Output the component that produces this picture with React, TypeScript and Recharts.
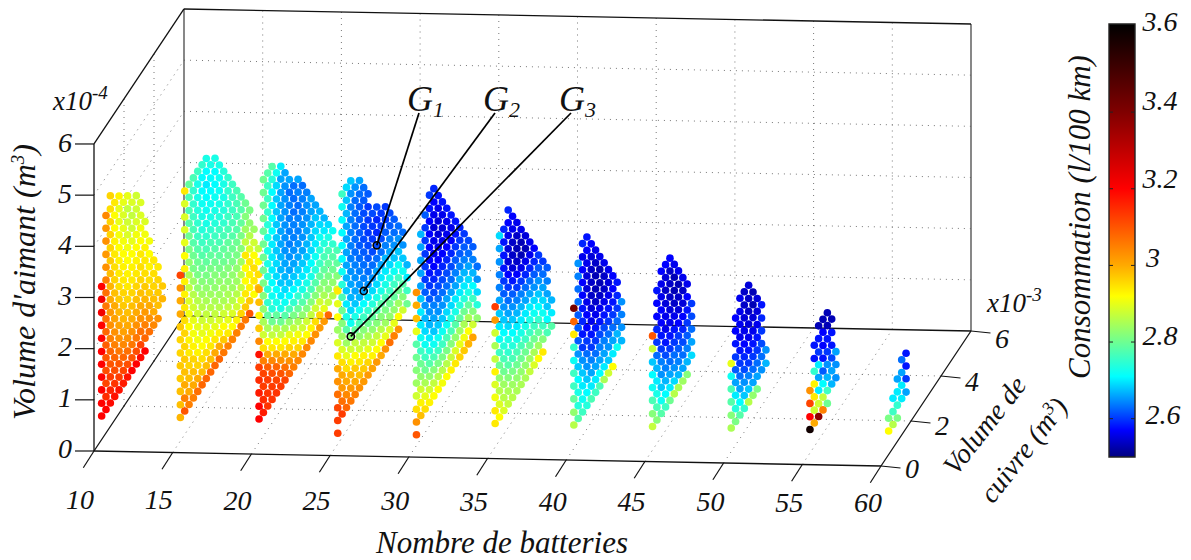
import React from 'react';
import { ScatterChart, Scatter, XAxis, YAxis, ReferenceLine, ReferenceArea, ReferenceDot } from 'recharts';

// Grid of the optimisation: copper volume (x10^-3 m3) and magnet volume (x10^-4 m3)
const copperGrid = [0.51, 0.8, 1.09, 1.38, 1.67, 1.96, 2.24, 2.53, 2.82, 3.11, 3.4, 3.69, 3.98, 4.27, 4.56, 4.85, 5.13, 5.42, 5.71];
const magnetGrid = [0.21, 0.46, 0.71, 0.97, 1.22, 1.47, 1.72, 1.98, 2.23, 2.48, 2.74, 2.99, 3.24, 3.49, 3.75, 4.0, 4.25, 4.51, 4.76, 5.01];

// One entry per copper step: [index of first magnet step, consumption going up]
type Column = [number, number[]];

const batt10: Column[] = [
  [1, [3.2, 3.2, 3.2, 3.2, 3.2, 3.2, 3.2, 3.2, 3.22, 3.22, 3.2]],
  [1, [3.2, 3.15, 3.12, 3.11, 3.1, 3.09, 3.08, 3.07, 3.06, 3.07, 3.05, 3.03, 3.02, 3.03, 3.02, 3.04]],
  [1, [3.19, 3.16, 3.13, 3.1, 3.08, 3.05, 3.03, 3.02, 3.0, 2.99, 2.98, 2.97, 2.96, 2.96, 2.96, 2.95, 2.96]],
  [1, [3.18, 3.14, 3.11, 3.08, 3.05, 3.03, 3.01, 3.0, 2.98, 2.96, 2.95, 2.94, 2.93, 2.92, 2.92, 2.94]],
  [1, [3.18, 3.13, 3.1, 3.06, 3.03, 3.01, 2.99, 2.97, 2.95, 2.94, 2.93, 2.92, 2.91, 2.9, 2.9, 2.93]],
  [1, [3.17, 3.12, 3.08, 3.04, 3.01, 2.99, 2.97, 2.96, 2.94, 2.93, 2.92, 2.91, 2.9, 2.89, 2.9]],
  [1, [3.18, 3.11, 3.07, 3.03, 3.0, 2.98, 2.96, 2.94, 2.93, 2.92, 2.91, 2.89, 2.88, 2.87, 2.9]],
  [1, [3.2, 3.1, 3.06, 3.03, 3.0, 2.98, 2.96, 2.94, 2.93, 2.92, 2.9, 2.88, 2.87, 2.89]],
  [1, [3.2, 3.11, 3.06, 3.03, 3.0, 2.98, 2.96, 2.94, 2.93, 2.92, 2.91, 2.89, 2.88, 2.88]],
  [1, [3.19, 3.12, 3.07, 3.03, 3.0, 2.98, 2.96, 2.95, 2.94, 2.92, 2.91, 2.89, 2.89]],
  [1, [3.2, 3.08, 3.05, 3.02, 2.99, 2.97, 2.95, 2.94, 2.93, 2.91, 2.89]],
  [2, [3.07, 3.03, 3.0, 2.97, 2.95, 2.93, 2.92, 2.91]],
  [2, [3.04, 3.0, 2.98, 2.96, 2.95, 2.94]],
  [2, [3.03, 2.98, 2.97, 2.96, 2.94]],
  [3, [2.99, 2.97]],
];

const batt15: Column[] = [
  [1, [2.99, 2.98, 2.98, 2.97, 2.97, 2.96, 2.96, 2.97, 3.0, 3.0, 3.03, 3.12]],
  [1, [3.1, 3.05, 3.0, 2.98, 2.97, 2.96, 2.96, 2.95, 2.94, 2.93, 2.93, 2.93, 2.92, 2.9, 2.89, 2.89, 2.89, 2.94]],
  [1, [3.05, 3.0, 2.98, 2.96, 2.94, 2.93, 2.92, 2.91, 2.89, 2.87, 2.85, 2.83, 2.81, 2.8, 2.78, 2.77, 2.77, 2.79]],
  [1, [3.05, 3.0, 2.98, 2.96, 2.93, 2.91, 2.9, 2.88, 2.86, 2.84, 2.81, 2.8, 2.78, 2.77, 2.76, 2.75, 2.75, 2.77]],
  [1, [3.07, 3.0, 2.96, 2.93, 2.91, 2.9, 2.88, 2.86, 2.83, 2.81, 2.8, 2.78, 2.76, 2.75, 2.74, 2.73, 2.73, 2.76]],
  [1, [3.08, 2.98, 2.95, 2.92, 2.9, 2.88, 2.86, 2.84, 2.82, 2.8, 2.78, 2.76, 2.74, 2.73, 2.72, 2.71, 2.71, 2.75]],
  [1, [3.08, 2.98, 2.95, 2.92, 2.9, 2.87, 2.85, 2.83, 2.81, 2.79, 2.77, 2.75, 2.73, 2.72, 2.71, 2.7, 2.71, 2.73]],
  [1, [3.08, 2.98, 2.94, 2.91, 2.88, 2.86, 2.84, 2.82, 2.81, 2.79, 2.77, 2.75, 2.73, 2.72, 2.71, 2.71, 2.73]],
  [1, [3.08, 3.0, 2.94, 2.9, 2.87, 2.85, 2.83, 2.82, 2.8, 2.78, 2.76, 2.74, 2.73, 2.72, 2.71, 2.71, 2.73]],
  [1, [3.08, 3.0, 2.93, 2.89, 2.86, 2.84, 2.83, 2.81, 2.79, 2.77, 2.76, 2.74, 2.73, 2.72, 2.72, 2.73]],
  [1, [3.06, 2.97, 2.92, 2.88, 2.85, 2.84, 2.82, 2.8, 2.79, 2.77, 2.75, 2.74, 2.73, 2.73, 2.74]],
  [1, [3.05, 2.94, 2.9, 2.87, 2.85, 2.83, 2.82, 2.8, 2.79, 2.77, 2.76, 2.75, 2.75, 2.75]],
  [1, [3.05, 2.92, 2.89, 2.86, 2.84, 2.83, 2.81, 2.8, 2.78, 2.77, 2.76, 2.76, 2.76]],
  [1, [3.05, 2.93, 2.88, 2.86, 2.84, 2.83, 2.81, 2.8, 2.78, 2.77, 2.77, 2.77]],
  [1, [3.06, 2.96, 2.9, 2.87, 2.86, 2.84, 2.82, 2.81, 2.79, 2.78, 2.78]],
  [1, [3.06, 2.97, 2.94, 2.92, 2.92, 2.94, 2.87, 2.84, 2.82, 2.8]],
  [1, [3.1, 2.97, 2.93, 2.93, 2.94, 2.89, 2.86, 2.83, 2.81]],
  [2, [2.92, 2.94, 2.95, 2.92, 2.88, 2.84]],
  [2, [2.98, 2.95, 2.92, 2.87]],
];

const batt20: Column[] = [
  [1, [3.2, 3.2, 3.17, 3.15, 3.13, 3.18, 3.04, 2.97, 2.93, 2.98, 3.0]],
  [1, [3.17, 3.15, 3.13, 3.12, 3.05, 2.95, 2.88, 2.85, 2.83, 2.82, 2.81, 2.8, 2.8, 2.8, 2.79, 2.8, 2.8, 2.8, 2.8]],
  [1, [3.14, 3.14, 3.13, 3.09, 3.0, 2.92, 2.85, 2.79, 2.75, 2.74, 2.74, 2.73, 2.73, 2.73, 2.74, 2.75, 2.76, 2.76, 2.78]],
  [1, [3.14, 3.13, 3.11, 3.04, 2.94, 2.87, 2.8, 2.74, 2.72, 2.71, 2.7, 2.7, 2.7, 2.71, 2.71, 2.71, 2.71, 2.74, 2.78]],
  [1, [3.14, 3.12, 3.08, 3.0, 2.92, 2.86, 2.79, 2.73, 2.71, 2.69, 2.69, 2.68, 2.68, 2.68, 2.68, 2.68, 2.69, 2.72]],
  [1, [3.13, 3.1, 3.03, 2.94, 2.87, 2.8, 2.73, 2.7, 2.68, 2.67, 2.67, 2.66, 2.66, 2.66, 2.66, 2.66, 2.66, 2.7]],
  [1, [3.12, 3.07, 3.0, 2.92, 2.85, 2.78, 2.72, 2.69, 2.67, 2.66, 2.65, 2.65, 2.65, 2.65, 2.65, 2.65, 2.66]],
  [1, [3.08, 3.03, 2.96, 2.9, 2.83, 2.77, 2.71, 2.68, 2.66, 2.65, 2.64, 2.64, 2.64, 2.64, 2.63, 2.66]],
  [1, [3.05, 3.0, 2.93, 2.87, 2.81, 2.75, 2.71, 2.68, 2.66, 2.65, 2.64, 2.64, 2.63, 2.63, 2.63]],
  [1, [3.04, 2.96, 2.91, 2.85, 2.8, 2.75, 2.7, 2.68, 2.66, 2.65, 2.64, 2.64, 2.63, 2.64, 2.66]],
  [1, [3.04, 2.94, 2.88, 2.83, 2.78, 2.73, 2.7, 2.68, 2.66, 2.65, 2.65, 2.64, 2.64, 2.63]],
  [1, [3.04, 2.92, 2.88, 2.82, 2.77, 2.73, 2.7, 2.68, 2.67, 2.66, 2.65, 2.65, 2.64]],
  [1, [3.04, 2.93, 2.87, 2.82, 2.77, 2.73, 2.71, 2.69, 2.68, 2.67, 2.66, 2.66]],
  [1, [3.03, 2.95, 2.88, 2.82, 2.78, 2.74, 2.72, 2.7, 2.69, 2.68, 2.66]],
  [1, [3.02, 2.96, 2.88, 2.83, 2.79, 2.76, 2.74, 2.72, 2.69, 2.67]],
  [1, [3.02, 2.9, 2.85, 2.82, 2.79, 2.77, 2.74, 2.7, 2.67]],
  [1, [3.08, 2.87, 2.83, 2.81, 2.79, 2.77, 2.73, 2.69]],
  [2, [2.86, 2.83, 2.8, 2.78, 2.75, 2.72]],
  [2, [2.88, 2.82, 2.79, 2.77]],
];

const batt25: Column[] = [
  [0, [3.13, 3.13, 3.12, 3.07, 3.03, 3.0, 2.94, 2.89, 2.84, 2.92, 2.9, 2.94]],
  [1, [3.13, 3.07, 3.02, 3.0, 2.95, 2.89, 2.84, 2.82, 2.8, 2.77, 2.74, 2.72, 2.71, 2.71, 2.71, 2.71, 2.72, 2.76]],
  [1, [3.08, 3.04, 3.0, 2.95, 2.9, 2.84, 2.78, 2.73, 2.7, 2.68, 2.67, 2.66, 2.66, 2.66, 2.66, 2.67, 2.68, 2.69]],
  [1, [3.06, 3.02, 2.99, 2.93, 2.88, 2.82, 2.72, 2.69, 2.67, 2.66, 2.65, 2.64, 2.64, 2.64, 2.64, 2.64, 2.65, 2.68]],
  [1, [3.05, 3.0, 2.97, 2.92, 2.87, 2.79, 2.73, 2.68, 2.66, 2.65, 2.64, 2.63, 2.63, 2.63, 2.63, 2.63, 2.65]],
  [1, [3.03, 2.98, 2.94, 2.88, 2.83, 2.77, 2.72, 2.67, 2.65, 2.64, 2.63, 2.62, 2.62, 2.62, 2.62, 2.63, 2.66]],
  [1, [3.02, 2.97, 2.93, 2.87, 2.82, 2.76, 2.71, 2.66, 2.64, 2.63, 2.62, 2.61, 2.61, 2.61, 2.62, 2.63]],
  [1, [3.02, 2.96, 2.9, 2.85, 2.8, 2.75, 2.7, 2.65, 2.63, 2.62, 2.61, 2.6, 2.6, 2.6, 2.62]],
  [1, [3.01, 2.93, 2.88, 2.83, 2.79, 2.74, 2.69, 2.65, 2.63, 2.61, 2.6, 2.6, 2.61]],
  [1, [3.02, 2.92, 2.87, 2.82, 2.78, 2.73, 2.69, 2.66, 2.63, 2.61, 2.59, 2.59, 2.61]],
  [1, [3.0, 2.92, 2.86, 2.82, 2.78, 2.73, 2.7, 2.66, 2.63, 2.61, 2.6, 2.6]],
  [1, [3.03, 2.9, 2.84, 2.81, 2.77, 2.73, 2.7, 2.67, 2.64, 2.62, 2.6, 2.6]],
  [1, [3.07, 2.89, 2.83, 2.8, 2.76, 2.73, 2.69, 2.66, 2.64, 2.62, 2.61]],
  [1, [3.05, 2.9, 2.83, 2.79, 2.76, 2.72, 2.68, 2.65, 2.63, 2.62]],
  [1, [3.03, 2.92, 2.84, 2.8, 2.76, 2.72, 2.68, 2.65, 2.63]],
  [2, [2.88, 2.82, 2.78, 2.72, 2.68, 2.65, 2.63]],
  [2, [2.8, 2.76, 2.7, 2.67]],
];

const batt30: Column[] = [
  [0, [3.1, 3.03, 2.95, 2.88, 2.84, 2.82, 2.8, 2.78, 2.9, 2.98, 3.0, 3.03]],
  [1, [2.98, 2.93, 2.88, 2.83, 2.8, 2.76, 2.72, 2.7, 2.7, 2.68, 2.66, 2.66, 2.66, 2.66, 2.67]],
  [1, [2.95, 2.9, 2.85, 2.8, 2.76, 2.72, 2.69, 2.67, 2.65, 2.62, 2.6, 2.6, 2.6, 2.6, 2.6, 2.62]],
  [1, [2.93, 2.88, 2.83, 2.78, 2.74, 2.7, 2.67, 2.65, 2.62, 2.6, 2.58, 2.57, 2.57, 2.57, 2.57, 2.58, 2.6]],
  [1, [2.92, 2.87, 2.82, 2.77, 2.72, 2.68, 2.66, 2.64, 2.61, 2.59, 2.57, 2.56, 2.56, 2.55, 2.56, 2.57, 2.59]],
  [1, [2.92, 2.86, 2.81, 2.76, 2.72, 2.68, 2.65, 2.63, 2.61, 2.59, 2.57, 2.56, 2.55, 2.55, 2.56, 2.58]],
  [1, [2.91, 2.86, 2.81, 2.76, 2.72, 2.68, 2.65, 2.63, 2.61, 2.59, 2.57, 2.56, 2.55, 2.56, 2.58]],
  [1, [2.92, 2.86, 2.81, 2.77, 2.72, 2.69, 2.66, 2.63, 2.61, 2.59, 2.57, 2.56, 2.56, 2.58]],
  [1, [2.93, 2.87, 2.82, 2.77, 2.73, 2.69, 2.66, 2.63, 2.61, 2.59, 2.57, 2.56, 2.58]],
  [1, [2.94, 2.89, 2.83, 2.78, 2.73, 2.7, 2.66, 2.64, 2.62, 2.6, 2.58, 2.58]],
  [1, [2.96, 2.9, 2.84, 2.79, 2.74, 2.7, 2.67, 2.64, 2.62, 2.6, 2.59]],
  [1, [2.97, 2.91, 2.85, 2.8, 2.74, 2.7, 2.67, 2.64, 2.62, 2.6]],
  [1, [2.99, 2.92, 2.85, 2.79, 2.73, 2.69, 2.66, 2.63, 2.61]],
  [1, [3.01, 2.88, 2.82, 2.76, 2.71, 2.67, 2.64, 2.62]],
  [2, [2.83, 2.74, 2.69, 2.65, 2.63]],
];

const batt35: Column[] = [
  [1, [2.94, 2.94, 2.91, 2.89, 2.93, 2.87, 2.85, 2.88, 3.02, 3.13]],
  [1, [2.92, 2.89, 2.86, 2.83, 2.8, 2.76, 2.72, 2.7, 2.68, 2.66, 2.64, 2.64, 2.65, 2.66, 2.69]],
  [1, [2.89, 2.86, 2.84, 2.8, 2.77, 2.74, 2.71, 2.68, 2.65, 2.62, 2.6, 2.58, 2.58, 2.58, 2.59]],
  [1, [2.87, 2.85, 2.82, 2.78, 2.75, 2.73, 2.69, 2.66, 2.63, 2.6, 2.57, 2.55, 2.55, 2.56, 2.57, 2.59]],
  [1, [2.86, 2.84, 2.81, 2.77, 2.74, 2.71, 2.68, 2.65, 2.62, 2.58, 2.55, 2.54, 2.54, 2.56, 2.57]],
  [1, [2.85, 2.83, 2.8, 2.77, 2.73, 2.7, 2.67, 2.64, 2.6, 2.57, 2.54, 2.53, 2.54, 2.56]],
  [1, [2.85, 2.83, 2.8, 2.77, 2.73, 2.7, 2.67, 2.64, 2.6, 2.56, 2.53, 2.53, 2.56]],
  [1, [2.85, 2.83, 2.8, 2.76, 2.73, 2.7, 2.66, 2.63, 2.59, 2.56, 2.53, 2.55]],
  [1, [2.87, 2.84, 2.8, 2.76, 2.73, 2.7, 2.66, 2.63, 2.59, 2.56, 2.56]],
  [1, [2.89, 2.85, 2.8, 2.76, 2.72, 2.69, 2.65, 2.62, 2.59, 2.57]],
  [1, [2.92, 2.84, 2.79, 2.75, 2.71, 2.68, 2.65, 2.62, 2.6]],
  [1, [2.94, 2.82, 2.76, 2.72, 2.69, 2.66, 2.63, 2.6]],
  [2, [2.77, 2.71, 2.68, 2.66, 2.64, 2.62]],
  [2, [2.78, 2.7, 2.67]],
];

const batt40: Column[] = [
  [1, [2.86, 2.83, 2.79, 2.76, 2.76, 2.72, 2.75, 2.94, 3.08, 3.42]],
  [1, [2.78, 2.74, 2.73, 2.71, 2.68, 2.65, 2.62, 2.62, 2.62, 2.63, 2.63, 2.64, 2.65]],
  [1, [2.76, 2.72, 2.7, 2.68, 2.65, 2.6, 2.58, 2.59, 2.58, 2.57, 2.57, 2.57, 2.56, 2.59]],
  [1, [2.74, 2.71, 2.68, 2.65, 2.63, 2.6, 2.57, 2.57, 2.56, 2.55, 2.55, 2.56, 2.57, 2.58]],
  [1, [2.77, 2.7, 2.66, 2.64, 2.6, 2.58, 2.56, 2.55, 2.54, 2.54, 2.54, 2.55, 2.57]],
  [1, [2.76, 2.7, 2.66, 2.63, 2.6, 2.58, 2.56, 2.54, 2.53, 2.53, 2.54, 2.56]],
  [1, [2.77, 2.71, 2.66, 2.64, 2.61, 2.58, 2.56, 2.54, 2.53, 2.53, 2.56]],
  [1, [2.85, 2.7, 2.66, 2.64, 2.61, 2.58, 2.56, 2.54, 2.54, 2.56]],
  [1, [2.88, 2.68, 2.65, 2.63, 2.6, 2.58, 2.56, 2.55, 2.56]],
  [1, [2.92, 2.7, 2.66, 2.63, 2.6, 2.58, 2.57, 2.57]],
  [2, [2.72, 2.67, 2.63, 2.6, 2.59, 2.58]],
  [2, [2.67, 2.65, 2.64, 2.65]],
];

const batt45: Column[] = [
  [1, [2.87, 2.82, 2.77, 2.72, 2.71, 2.68, 2.87, 3.1]],
  [1, [2.82, 2.77, 2.73, 2.7, 2.67, 2.63, 2.6, 2.59, 2.57, 2.57, 2.58]],
  [1, [2.78, 2.72, 2.68, 2.65, 2.64, 2.6, 2.58, 2.57, 2.57, 2.56, 2.56, 2.57]],
  [1, [2.76, 2.71, 2.67, 2.64, 2.61, 2.58, 2.56, 2.56, 2.55, 2.54, 2.55, 2.57]],
  [1, [2.8, 2.7, 2.66, 2.63, 2.6, 2.58, 2.56, 2.55, 2.54, 2.54, 2.54, 2.57]],
  [1, [2.86, 2.69, 2.65, 2.63, 2.6, 2.58, 2.56, 2.54, 2.53, 2.53, 2.56]],
  [1, [2.85, 2.67, 2.64, 2.62, 2.6, 2.57, 2.55, 2.54, 2.53, 2.56]],
  [1, [2.84, 2.66, 2.63, 2.61, 2.59, 2.57, 2.55, 2.54, 2.56]],
  [1, [2.82, 2.67, 2.64, 2.62, 2.6, 2.58, 2.57, 2.56]],
  [2, [2.69, 2.66, 2.63, 2.61, 2.6]],
];

const batt50: Column[] = [
  [1, [2.85, 2.82, 2.78, 2.77, 2.72, 2.9]],
  [1, [2.81, 2.74, 2.7, 2.66, 2.62, 2.6, 2.58, 2.57, 2.57]],
  [1, [2.78, 2.71, 2.66, 2.63, 2.6, 2.58, 2.56, 2.56, 2.56, 2.56]],
  [1, [2.75, 2.68, 2.65, 2.61, 2.59, 2.57, 2.56, 2.55, 2.54, 2.54]],
  [1, [2.86, 2.68, 2.64, 2.6, 2.58, 2.56, 2.55, 2.54, 2.54, 2.55]],
  [1, [2.83, 2.66, 2.63, 2.6, 2.58, 2.56, 2.55, 2.53, 2.53]],
  [1, [2.81, 2.66, 2.63, 2.6, 2.58, 2.56, 2.55, 2.55]],
  [2, [2.65, 2.63, 2.61, 2.6, 2.59, 2.58]],
  [2, [2.67, 2.65]],
];

const batt55: Column[] = [
  [1, [3.6, 3.2, 3.12, 3.03]],
  [1, [3.0, 2.88, 2.94, 2.93, 2.75, 2.58, 2.58]],
  [1, [3.38, 2.88, 2.7, 2.66, 2.7, 2.6, 2.58, 2.53]],
  [1, [3.05, 2.87, 2.71, 2.62, 2.58, 2.57, 2.57, 2.53]],
  [1, [2.8, 2.76, 2.67, 2.65, 2.6, 2.58, 2.53, 2.53]],
  [2, [2.67, 2.66, 2.61, 2.58, 2.58, 2.53]],
  [2, [2.65, 2.65, 2.66]],
];

const batt60: Column[] = [
  [1, [2.92, 2.81]],
  [1, [2.86, 2.76, 2.7]],
  [1, [2.81, 2.75, 2.7, 2.66]],
  [2, [2.7, 2.7, 2.66, 2.63]],
  [2, [2.66, 2.6, 2.58, 2.58]],
];

const batteryCounts = [10, 15, 20, 25, 30, 35, 40, 45, 50, 55, 60];
const batterySeries = [batt10, batt15, batt20, batt25, batt30, batt35, batt40, batt45, batt50, batt55, batt60];

const batteryTicks = [10, 15, 20, 25, 30, 35, 40, 45, 50, 55, 60];
const copperTicks = [0, 2, 4, 6];
const magnetTicks = [0, 1, 2, 3, 4, 5, 6];
const colorTicks = [2.6, 2.8, 3, 3.2, 3.4];

// highlighted solutions: label, battery count, copper index, magnet index
const groups: [string, number, number, number][] = [
  ['1', 25, 9, 10],
  ['2', 25, 6, 8],
  ['3', 25, 3, 6],
];

const jetValues = [2.5, 2.57, 2.71, 2.815, 2.92, 3.0, 3.2, 3.4, 3.63];
const jetColors = ['#00007f', '#0000ff', '#00ffff', '#80ff80', '#ffff00', '#ffaa00', '#ff0000', '#800000', '#000000'];

const hex = (c: string, at: number) => parseInt(c.slice(at, at + 2), 16);

const jet = (v: number) => {
  let k = 0;
  while (k < jetValues.length - 2 && v > jetValues[k + 1]) k++;
  const t = Math.min(1, Math.max(0, (v - jetValues[k]) / (jetValues[k + 1] - jetValues[k])));
  const mix = (at: number) => Math.round(hex(jetColors[k], at) + (hex(jetColors[k + 1], at) - hex(jetColors[k], at)) * t);
  return `rgb(${mix(1)},${mix(3)},${mix(5)})`;
};

// orthographic view of the 3D box, in page pixels
const project = (n: number, cu: number, m: number) => ({
  x: 94 + (n - 10) * 15.74 + cu * 15,
  y: 451 + (n - 10) * 0.3 - cu * 22.5 - m * 51.17,
});

const points = batterySeries.flatMap((columns, b) =>
  columns.flatMap(([start, values], i) =>
    values.map((c, j) => {
      const p = project(batteryCounts[b], copperGrid[i], magnetGrid[start + j]);
      return { px: p.x, py: p.y, consumption: c };
    })
  )
);

type Seg = [{ x: number; y: number }, { x: number; y: number }];
const seg = (a: number[], b: number[]): Seg => [project(a[0], a[1], a[2]), project(b[0], b[1], b[2])];

const gridSegs: Seg[] = [
  ...[15, 20, 25, 30, 35, 40, 45, 50, 55].flatMap((n) => [seg([n, 0, 0], [n, 6, 0]), seg([n, 6, 0], [n, 6, 6])]),
  ...[2, 4].flatMap((c) => [seg([10, c, 0], [60, c, 0]), seg([10, c, 0], [10, c, 6])]),
  ...[1, 2, 3, 4, 5].flatMap((m) => [seg([10, 0, m], [10, 6, m]), seg([10, 6, m], [60, 6, m])]),
];

const boxSegs: Seg[] = [
  seg([10, 0, 0], [60, 0, 0]),
  seg([60, 0, 0], [60, 6, 0]),
  seg([10, 0, 0], [10, 6, 0]),
  seg([10, 6, 0], [60, 6, 0]),
  seg([10, 0, 0], [10, 0, 6]),
  seg([10, 0, 6], [10, 6, 6]),
  seg([10, 6, 6], [60, 6, 6]),
];

// the two back uprights are printed lighter
const backSegs: Seg[] = [seg([10, 6, 0], [10, 6, 6]), seg([60, 6, 0], [60, 6, 6])];

const offset = (s: { x: number; y: number }, dx: number, dy: number): Seg => [s, { x: s.x + dx, y: s.y + dy }];

const tickSegs: Seg[] = [
  ...batteryTicks.map((n) => offset(project(n, 0, 0), -10.7, 16.7)),
  ...copperTicks.map((c) => offset(project(60, c, 0), 19.5, 2)),
  ...magnetTicks.map((m) => offset(project(10, 0, m), -19, 0)),
];

const barLeft = 1109;
const barRight = 1135;
const barTop = 24;
const barBottom = 457;
const barY = (v: number) => barBottom - ((v - 2.5) / 1.13) * (barBottom - barTop);

const serif = { fontFamily: '"Liberation Serif", serif', fontStyle: 'italic', fill: '#111' } as const;

const Dot = (props: any) => <circle cx={props.cx} cy={props.cy} r={3.8} fill={jet(props.payload.consumption)} />;
const NoDot = () => <g />;

const App: React.FC = () => {
  return (
    <div style={{ position: 'absolute', left: 0, top: 0 }}>
      <ScatterChart width={1191} height={560} margin={{ top: 0, right: 0, bottom: 0, left: 0 }}>
        <defs>
          <linearGradient id="jetBar" x1="0" y1="0" x2="0" y2="1">
            {[...jetValues].reverse().map((v) => (
              <stop key={v} offset={(3.63 - v) / 1.13} stopColor={jetColors[jetValues.indexOf(v)]} />
            ))}
          </linearGradient>
        </defs>
        <XAxis type="number" dataKey="px" domain={[0, 1191]} hide />
        <YAxis type="number" dataKey="py" domain={[0, 560]} reversed hide />

        {gridSegs.map((s, i) => (
          <ReferenceLine key={`g${i}`} segment={s} stroke="#777" strokeWidth={1} strokeDasharray="1 5" />
        ))}
        {backSegs.map((s, i) => (
          <ReferenceLine key={`u${i}`} segment={s} stroke="#555" strokeWidth={1.4} />
        ))}
        {boxSegs.map((s, i) => (
          <ReferenceLine key={`b${i}`} segment={s} stroke="#111" strokeWidth={1.3} />
        ))}
        {tickSegs.map((s, i) => (
          <ReferenceLine key={`t${i}`} segment={s} stroke="#111" strokeWidth={1.2} />
        ))}

        <Scatter data={points} shape={Dot} isAnimationActive={false} />

        {groups.map(([name, n, ci, mi], i) => {
          const p = project(n, copperGrid[ci], magnetGrid[mi]);
          const leader = [{ px: p.x, py: p.y }, { px: 419 + i * 76, py: 113 }];
          return (
            <Scatter
              key={name}
              data={leader}
              shape={NoDot}
              line={{ stroke: '#000', strokeWidth: 1.7 }}
              isAnimationActive={false}
            />
          );
        })}
        {groups.map(([name, n, ci, mi]) => {
          const p = project(n, copperGrid[ci], magnetGrid[mi]);
          return <ReferenceDot key={name} x={p.x} y={p.y} r={3.6} fill="none" stroke="#000" strokeWidth={1.6} />;
        })}

        <ReferenceArea x1={barLeft} x2={barRight} y1={barTop} y2={barBottom} fill="url(#jetBar)" fillOpacity={1} stroke="#222" strokeWidth={1.4} />
        {colorTicks.flatMap((v) => [
          <ReferenceLine key={`cl${v}`} segment={[{ x: barLeft, y: barY(v) }, { x: barLeft + 4, y: barY(v) }]} stroke="#222" />,
          <ReferenceLine key={`cr${v}`} segment={[{ x: barRight - 4, y: barY(v) }, { x: barRight, y: barY(v) }]} stroke="#222" />,
        ])}

        {groups.map(([name], i) => (
          <text key={name} x={407 + i * 76} y={111} fontSize={36} {...serif}>
            G<tspan fontSize={22} dy={6}>{name}</tspan>
          </text>
        ))}

        {batteryTicks.map((n, i) => (
          <text key={n} x={80 + i * 78.8} y={509 + i * 0.3} fontSize={28} textAnchor="middle" {...serif}>{n}</text>
        ))}
        {magnetTicks.map((m) => (
          <text key={m} x={65} y={458 - m * 51} fontSize={28} textAnchor="middle" {...serif}>{m}</text>
        ))}
        {copperTicks.map((c) => (
          <text key={c} x={912 + c * 15} y={478 - c * 21.7} fontSize={28} textAnchor="middle" {...serif}>{c}</text>
        ))}
        <text x={53} y={110} fontSize={27} {...serif}>x10<tspan fontSize={19} dy={-11}>-4</tspan></text>
        <text x={987} y={312} fontSize={27} {...serif}>x10<tspan fontSize={19} dy={-11}>-3</tspan></text>

        <text transform="rotate(-90 35 282)" x={35} y={282} fontSize={32} textAnchor="middle" {...serif}>
          Volume d'aimant (m<tspan fontSize={19} dy={-11}>3</tspan><tspan dy={11}>)</tspan>
        </text>
        <text x={502} y={553} fontSize={31} textAnchor="middle" {...serif}>Nombre de batteries</text>
        <text transform="rotate(-52 992 431)" x={992} y={431} fontSize={28} textAnchor="middle" {...serif}>Volume de</text>
        <text transform="rotate(-52 1031 456)" x={1031} y={456} fontSize={28} textAnchor="middle" {...serif}>
          cuivre (m<tspan fontSize={18} dy={-10}>3</tspan><tspan dy={10}>)</tspan>
        </text>
        <text transform="rotate(-90 1090 217)" x={1090} y={217} fontSize={31} textAnchor="middle" {...serif}>
          Consommation (l/100 km)
        </text>

        {['3.6', '3.4', '3.2', '3', '2.8', '2.6'].map((t, i) => (
          <text key={t} x={t === '3' ? 1153 : t === '2.6' ? 1163 : 1160} y={31 + i * 78.5} fontSize={28} textAnchor="middle" {...serif}>{t}</text>
        ))}
      </ScatterChart>
    </div>
  );
};

export default App;
